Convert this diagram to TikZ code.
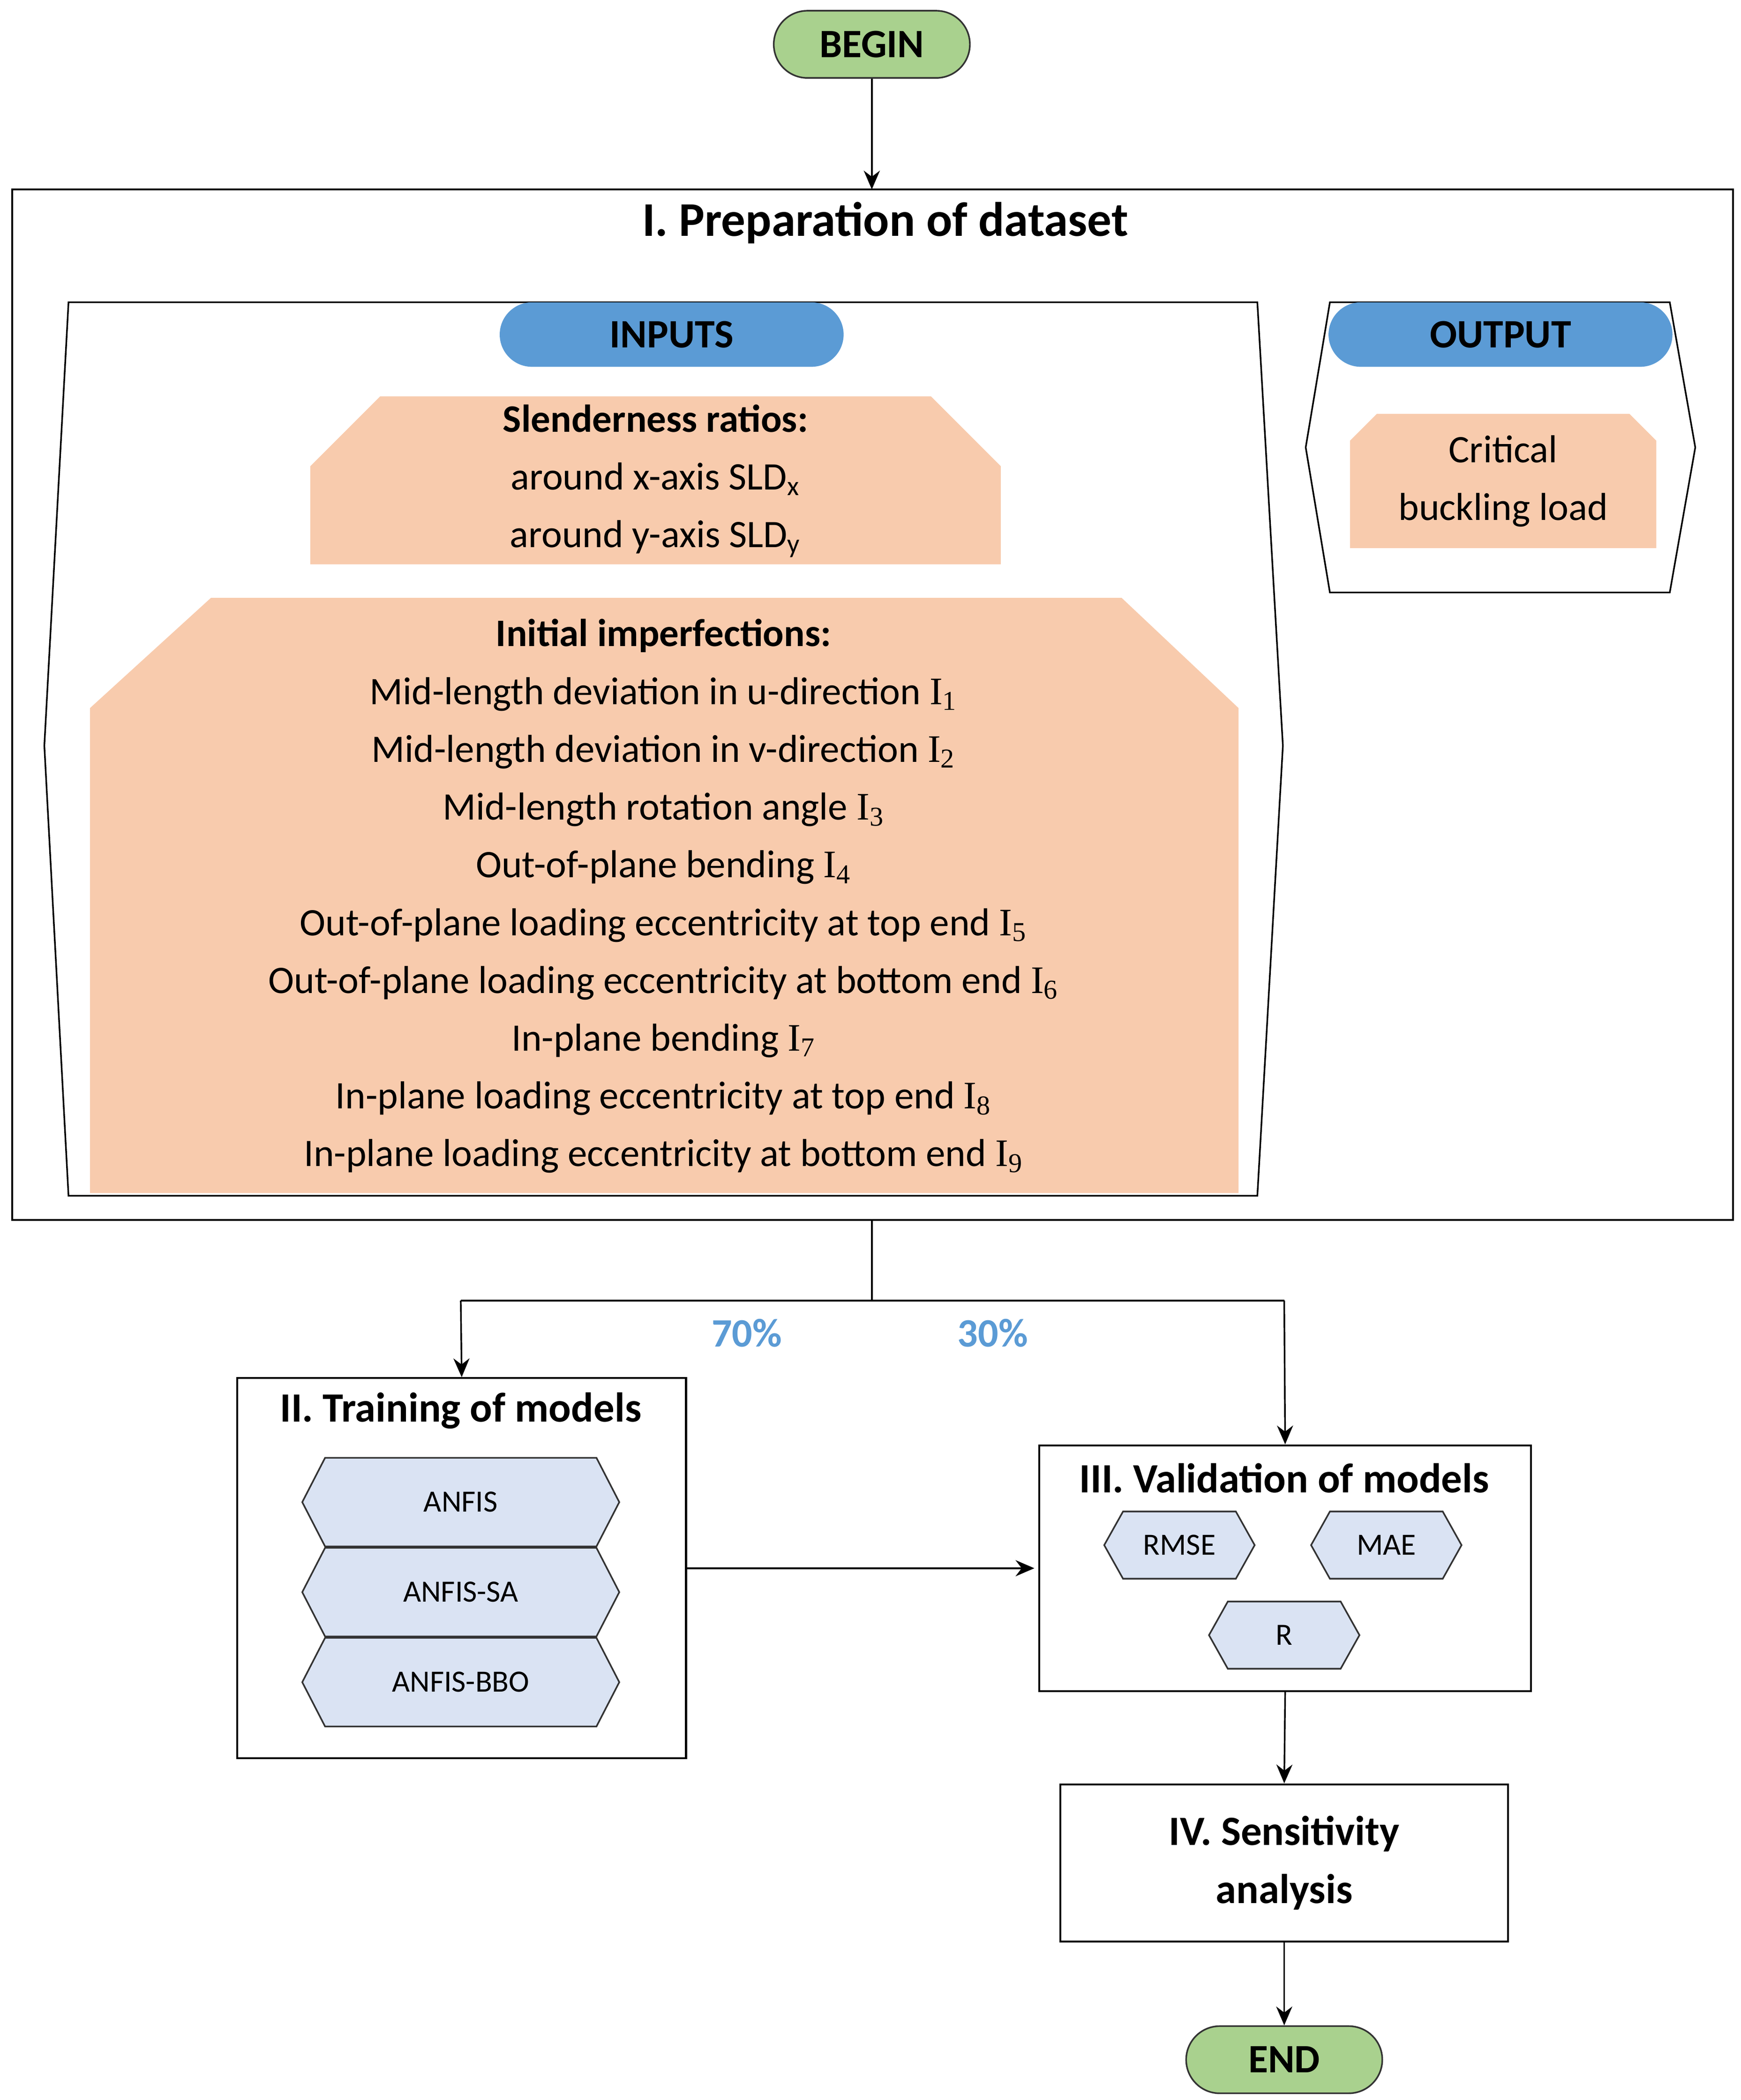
\documentclass[tikz,border=0pt]{standalone}
\usepackage{fontspec}
\setmainfont{Carlito}
\newfontfamily\serifI{Liberation Serif}
\usetikzlibrary{arrows.meta,shapes.geometric}
\definecolor{grn}{HTML}{A9D18E}
\definecolor{blu}{HTML}{5B9BD5}
\definecolor{pch}{HTML}{F8CBAD}
\definecolor{hexf}{HTML}{DAE3F3}
\newcommand{\Ii}[1]{{\serifI I\textsubscript{#1}}}
\begin{document}
\begin{tikzpicture}[x=0.5pt,y=-0.5pt,
  term/.style={draw=black!80,fill=grn,rounded corners=12.5pt,minimum width=73pt,minimum height=25pt,font=\fontsize{15}{18}\selectfont\bfseries,line width=0.6pt},
  pill/.style={fill=blu,rounded corners=12pt,minimum width=128pt,minimum height=24pt,font=\fontsize{15}{18}\selectfont\bfseries},
  box/.style={draw=black,line width=0.7pt,inner sep=0pt},
  hexa/.style={draw=black!80,fill=hexf,regular polygon sides=6,shape border rotate=0,inner sep=0pt},
  arr/.style={-{Stealth[length=7pt,width=6pt]},line width=0.6pt},
  txt/.style={font=\fontsize{14.5}{21.5}\selectfont,align=center},
  hx/.style={font=\fontsize{11.5}{14}\selectfont},
  pct/.style={font=\fontsize{15}{18}\selectfont\bfseries,text=blu}
]
\useasboundingbox (0,0) rectangle (1296,1563);
% BEGIN
\node[term] (begin) at (649,33) {BEGIN};
% outer box
\draw[box] (9,141) rectangle (1290,908);
\coordinate (outtop) at (649,141);
\coordinate (outbot) at (649,908);
\node[font=\fontsize{18}{22}\selectfont\bfseries] (t1) at (659,166) {I. Preparation of dataset};
\draw[arr] (begin) -- (outtop);
% inputs container
\draw[line width=0.6pt] (51,225) -- (936,225) -- (955,555) -- (936,890) -- (51,890) -- (33,555) -- cycle;
\node[pill] (inputs) at (500,249) {INPUTS};
% slenderness
\fill[pch] (283,295) -- (693,295) -- (745,347) -- (745,420) -- (231,420) -- (231,347) -- cycle;
\node[txt] (slen) at (488,358) {\textbf{Slenderness ratios:}\\around x-axis SLD\textsubscript{x}\\around y-axis SLD\textsubscript{y}};
% imperfections
\fill[pch] (157,445) -- (835,445) -- (922,527) -- (922,888) -- (67,888) -- (67,527) -- cycle;
\node[txt] (imp) at (494,667) {\textbf{Initial imperfections:}\\
Mid-length deviation in u-direction \Ii{1}\\
Mid-length deviation in v-direction \Ii{2}\\
Mid-length rotation angle \Ii{3}\\
Out-of-plane bending \Ii{4}\\
Out-of-plane loading eccentricity at top end \Ii{5}\\
Out-of-plane loading eccentricity at bottom end \Ii{6}\\
In-plane bending \Ii{7}\\
In-plane loading eccentricity at top end \Ii{8}\\
In-plane loading eccentricity at bottom end \Ii{9}};
% output container
\draw[line width=0.6pt] (990,225) -- (1243,225) -- (1262,333) -- (1243,441) -- (990,441) -- (972,333) -- cycle;
\node[pill] (output) at (1117,249) {OUTPUT};
\fill[pch] (1025,308) -- (1213,308) -- (1233,328) -- (1233,408) -- (1005,408) -- (1005,328) -- cycle;
\node[txt] (crit) at (1119,358) {Critical\\buckling load};
% split
\coordinate (j) at (649,968);
\coordinate (jl) at (343,968);
\coordinate (jr) at (956,968);
\node[box,minimum width=167pt,minimum height=141.5pt,anchor=north west] (train) at (176,1025) {};
\node[box,minimum width=183pt,minimum height=91.5pt,anchor=north west] (valid) at (773,1075) {};
\draw[line width=0.6pt] (outbot) -- (j) -- (jl);
\draw[arr] (jl) -- (train.north);
\draw[line width=0.6pt] (j) -- (jr);
\draw[arr] (jr) -- (valid.north);
\node[pct] (p70) at (556,992) {70\%};
\node[pct] (p30) at (739,992) {30\%};
% training
\node[font=\fontsize{15.5}{18}\selectfont\bfseries] (t2) at (343,1050) {II. Training of models};
\foreach \n/\l/\y in {h1/ANFIS/1118,h2/ANFIS-SA/1185,h3/ANFIS-BBO/1252}{
  \draw[draw=black!80,fill=hexf,line width=0.6pt] (225,\y) -- (242,\y-33) -- (444,\y-33) -- (461,\y) -- (444,\y+33) -- (242,\y+33) -- cycle;
  \node[hx] (\n) at (343,\y) {\l};
}
% validation
\node[font=\fontsize{15.5}{18}\selectfont\bfseries] (t3) at (956,1100) {III. Validation of models};
\foreach \n/\l/\x/\y in {m1/RMSE/878/1150,m2/MAE/1032/1150,m3/R/956/1217}{
  \draw[draw=black!80,fill=hexf,line width=0.6pt] (\x-56,\y) -- (\x-42,\y-25) -- (\x+42,\y-25) -- (\x+56,\y) -- (\x+42,\y+25) -- (\x-42,\y+25) -- cycle;
  \node[hx] (\n) at (\x,\y) {\l};
}
\draw[arr] (train.east) -- ([xshift=-1.5pt]valid.west);
% sensitivity
\node[box,minimum width=166.5pt,minimum height=58.5pt,font=\fontsize{15.5}{21.5}\selectfont\bfseries,align=center] (sens) at (956,1386.5) {IV. Sensitivity\\analysis};
\draw[arr] (valid.south) -- (sens.north);
\node[term] (end) at (956,1533) {END};
\draw[arr] (sens.south) -- (end.north);
\end{tikzpicture}
\end{document}
